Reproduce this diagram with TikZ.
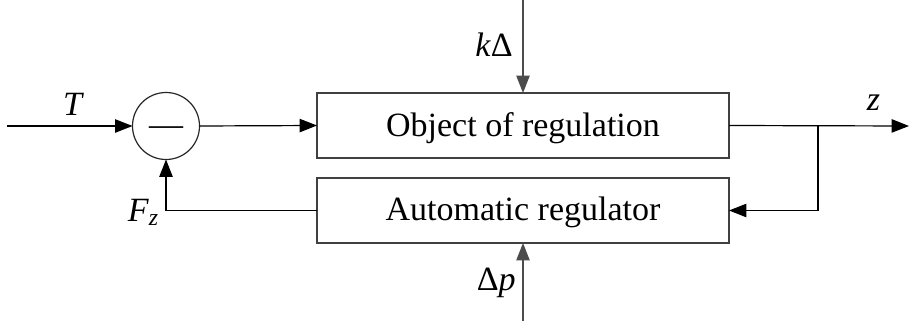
\documentclass[tikz,border=0pt]{standalone}
\usepackage{fontspec}
\setmainfont{Liberation Serif}
\usetikzlibrary{arrows.meta}
\begin{document}
\begin{tikzpicture}[x=0.75pt,y=-0.75pt,
  font=\fontsize{25.5}{30}\selectfont,
  wire/.style={line width=0.9pt,-{Triangle[length=13pt,width=10pt]}},
  block/.style={draw=black!75,line width=1.3pt,minimum width=309pt,minimum height=48.75pt,
    inner sep=0pt,outer sep=0pt,text depth=0pt},
  summer/.style={draw=black!85,line width=0.9pt,circle,minimum size=50.25pt,inner sep=0pt,outer sep=0pt},
  lbl/.style={inner sep=0pt,anchor=base}]
\useasboundingbox (0,0) rectangle (910,321);

% blocks and the comparison element
\node[block,text height=16.8pt] (obj) at (523,125.5) {Object of regulation};
\node[block,text height=14.5pt] (reg) at (523,210.5) {Automatic regulator};
\node[summer] (sum) at (166,126) {};
\node[lbl] (minus) at (166,135) {—};

% free ends of the signal lines
\coordinate (in) at (7,126);
\coordinate (out) at (909,126);
\coordinate (br) at (818,126);
\coordinate (ktop) at (523,0);
\coordinate (pbot) at (523,321);

% signal flow
\draw[wire] (in) -- (sum.west);
\draw[wire] (sum.east) -- (obj.west);
\draw[wire] (obj.east) -- (out);
\draw[wire] (br) |- (reg.east);
\draw[wire] (reg.west) -| (sum.south);
\draw[wire,draw=black!70] (ktop) -- (obj.north);
\draw[wire,draw=black!70] (pbot) -- (reg.south);

% signal names
\node[lbl] (lT) at (73.5,115) {\textit{T}};
\node[lbl] (lz) at (873.5,110) {\textit{z}};
\node[lbl,anchor=base east] (lF) at (159,221) {\textit{F}\textsubscript{\textit{z}}};
\node[lbl,anchor=base east] (lk) at (513,57) {\textit{k}Δ};
\node[lbl,anchor=base east] (lp) at (516,290) {Δ\textit{p}};
\end{tikzpicture}
\end{document}
